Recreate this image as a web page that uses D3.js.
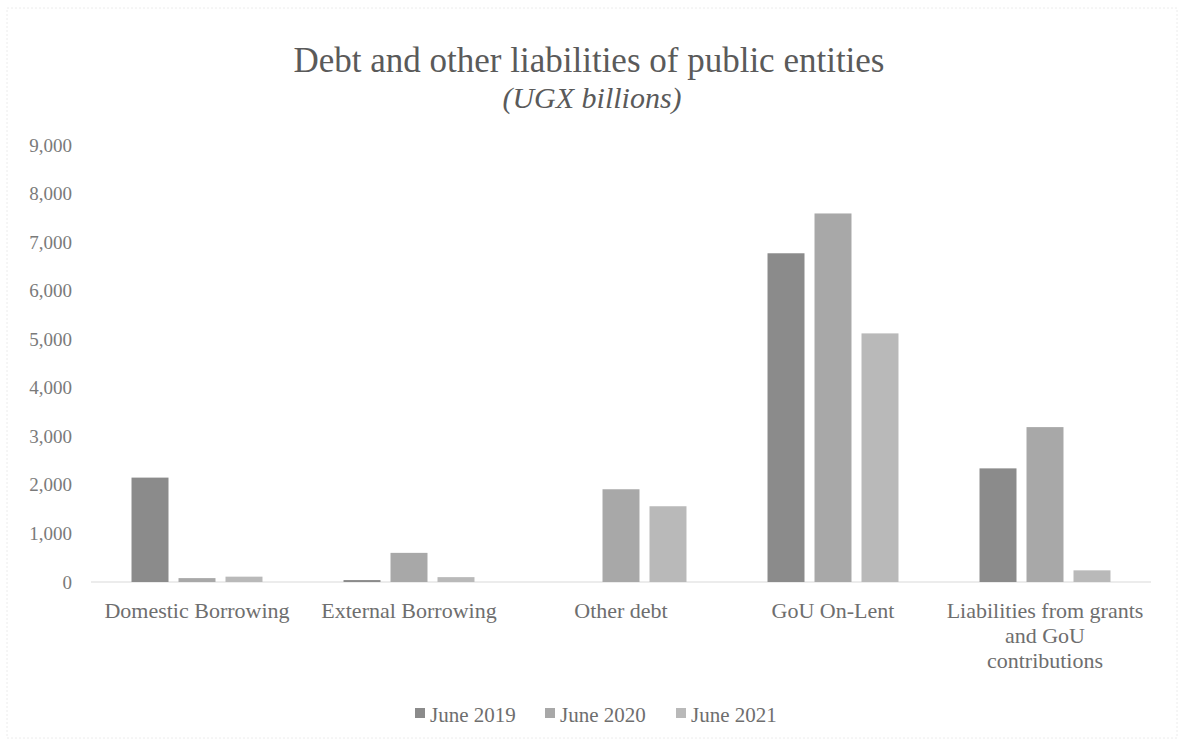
<!DOCTYPE html>
<html>
<head>
<meta charset="utf-8">
<script src="https://cdn.jsdelivr.net/npm/d3@7"></script>
<style>
  body { margin: 0; background: #fff; }
  text { font-family: "Liberation Serif", "DejaVu Serif", serif; }
</style>
</head>
<body>
<div id="chart"></div>
<script>
var categories = ["Domestic Borrowing", "External Borrowing", "Other debt", "GoU On-Lent", "Liabilities from grants and GoU contributions"];
var categoryLines = [["Domestic Borrowing"], ["External Borrowing"], ["Other debt"], ["GoU On-Lent"], ["Liabilities from grants", "and GoU", "contributions"]];
var seriesNames = ["June 2019", "June 2020", "June 2021"];
var june2019 = [2150, 40, 0, 6770, 2340];
var june2020 = [80, 600, 1910, 7590, 3190];
var june2021 = [110, 100, 1560, 5120, 240];
var yTicks = [0, 1000, 2000, 3000, 4000, 5000, 6000, 7000, 8000, 9000];

var colors = ["#8b8b8b", "#a8a8a8", "#b9b9b9"];
var seriesValues = [june2019, june2020, june2021];

var width = 1178, height = 744;
var svg = d3.select("#chart").append("svg")
    .attr("width", width)
    .attr("height", height);

// faint frame of the chart area
svg.append("rect")
    .attr("x", 7).attr("y", 8)
    .attr("width", 1170).attr("height", 730)
    .attr("fill", "none")
    .attr("stroke", "#ececec")
    .attr("stroke-dasharray", "2,2");

var x0 = d3.scaleBand().domain(categories).range([91, 1151]).padding(0);
var x1 = d3.scaleBand().domain(seriesNames).range([0, x0.bandwidth()])
    .paddingInner(0.213).paddingOuter(0.862);
var y = d3.scaleLinear().domain([0, 9000]).range([582, 145]);

// title
svg.append("text")
    .attr("x", 589).attr("y", 72)
    .attr("text-anchor", "middle")
    .style("font-size", "35px")
    .style("fill", "#5a5a5a")
    .text("Debt and other liabilities of public entities");
svg.append("text")
    .attr("x", 592).attr("y", 108)
    .attr("text-anchor", "middle")
    .style("font-size", "30px")
    .style("font-style", "italic")
    .style("fill", "#5a5a5a")
    .text("(UGX billions)");

// y axis labels
var yAxis = svg.append("g")
    .attr("transform", "translate(72,0)")
    .call(d3.axisLeft(y).tickValues(yTicks).tickSize(0).tickPadding(0)
        .tickFormat(d3.format(",")));
yAxis.select(".domain").remove();
yAxis.selectAll("text")
    .style("font-size", "19px")
    .style("fill", "#7a7a7a")
    .style("font-family", "'Liberation Serif', serif");

// baseline
svg.append("line")
    .attr("x1", 91).attr("x2", 1151)
    .attr("y1", y(0)).attr("y2", y(0))
    .style("stroke", "#d9d9d9")
    .style("stroke-width", 1);

// bars
var groups = svg.selectAll("g.cat")
    .data(categories)
    .enter().append("g")
    .attr("class", "cat")
    .attr("transform", function(d){ return "translate(" + x0(d) + ",0)"; });

groups.selectAll("rect")
    .data(function(d, i){
        return seriesNames.map(function(s, j){ return {series: s, value: seriesValues[j][i], idx: j}; });
    })
    .enter().append("rect")
    .attr("x", function(d){ return x1(d.series); })
    .attr("width", x1.bandwidth())
    .attr("y", function(d){ return y(d.value); })
    .attr("height", function(d){ return y(0) - y(d.value); })
    .style("fill", function(d){ return colors[d.idx]; });

// category labels
var labels = svg.selectAll("text.cat-label")
    .data(categories)
    .enter().append("text")
    .attr("class", "cat-label")
    .attr("text-anchor", "middle")
    .attr("x", function(d){ return x0(d) + x0.bandwidth()/2; })
    .attr("y", 618)
    .style("font-size", "22px")
    .style("fill", "#6e6e6e");
labels.each(function(d, i){
    var t = d3.select(this);
    categoryLines[i].forEach(function(line, k){
        t.append("tspan")
            .attr("x", x0(d) + x0.bandwidth()/2)
            .attr("dy", k === 0 ? 0 : 25)
            .text(line);
    });
});

// legend
var legendX = [415, 545, 676];
var legend = svg.selectAll("g.legend")
    .data(seriesNames)
    .enter().append("g")
    .attr("class", "legend")
    .attr("transform", function(d, i){ return "translate(" + legendX[i] + ",722)"; });
legend.append("rect")
    .attr("x", 0).attr("y", -14)
    .attr("width", 10).attr("height", 10)
    .style("fill", function(d, i){ return colors[i]; });
legend.append("text")
    .attr("x", 15).attr("y", 0)
    .style("font-size", "21px")
    .style("fill", "#6e6e6e")
    .text(function(d){ return d; });
</script>
</body>
</html>
